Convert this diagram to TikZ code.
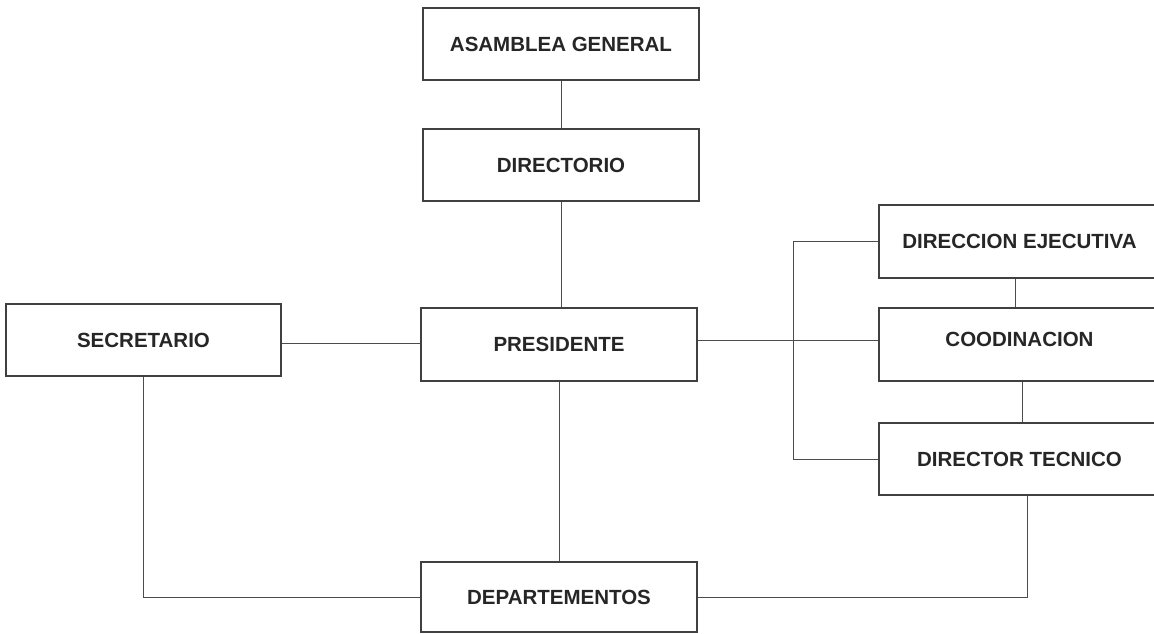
\documentclass[tikz,border=0pt]{standalone}
\usepackage{fontspec}
\setmainfont{Liberation Sans}
\begin{document}
\begin{tikzpicture}[x=1pt,y=-1pt,
  box/.style={draw=black!75,line width=1.2pt,minimum width=276pt,minimum height=72pt,
    inner sep=0pt,font=\fontsize{20.5}{22}\selectfont\bfseries,text=black!85},
  wide/.style={box,minimum width=281pt,minimum height=73pt},
  link/.style={draw=black!70,line width=0.9pt}]
\clip (0,0) rectangle (1154,633);
\fill[white] (0,0) rectangle (1154,633);

% central column
\node[box] (asam) at (561,44) {ASAMBLEA GENERAL};
\node[box] (dir)  at (561,165) {DIRECTORIO};
\node[box,minimum height=73pt] (pres) at (559,344.5) {PRESIDENTE};
\node[box,minimum height=70pt] (dep) at (559,597) {DEPARTEMENTOS};

% left side
\node[box,minimum width=275pt] (secr) at (143.5,340) {SECRETARIO};

% right column
\node[wide] (dej)  at (1019.5,241.5) {DIRECCION EJECUTIVA};
\node[wide] (cood) at (1019.5,344.5) {\raisebox{10pt}{COODINACION}};
\node[wide,minimum height=72pt] (dtec) at (1019.5,459) {DIRECTOR TECNICO};

% connectors
\draw[link] (asam.south) -- (dir.north);
\draw[link] (dir.south) -- (dir.south |- pres.north);
\draw[link] ([yshift=-3pt]secr.east) -- ([yshift=-3pt]secr.east -| pres.west);
\draw[link] ([yshift=4.5pt]pres.east) -- ([yshift=4.5pt]pres.east -| cood.west);
\draw[link] (pres.south) -- (pres.south |- dep.north);
\draw[link] (dej.west) -- ++(-85,0) |- (dtec.west);
\draw[link] ([xshift=-4.5pt]dej.south) -- ([xshift=-4.5pt]dej.south |- cood.north);
\draw[link] ([xshift=2.5pt]cood.south) -- ([xshift=2.5pt]cood.south |- dtec.north);
\draw[link] ([xshift=8pt]dtec.south) |- (dep.east);
\draw[link] (secr.south) |- (dep.west);
\end{tikzpicture}
\end{document}
